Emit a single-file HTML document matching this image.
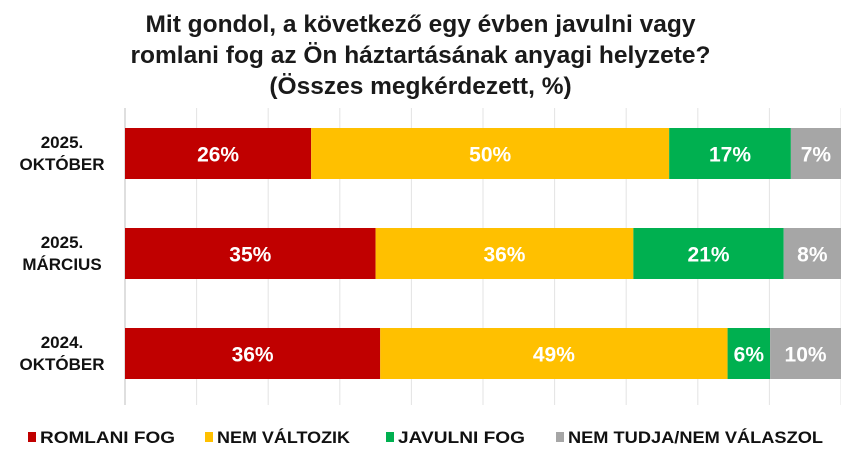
<!DOCTYPE html>
<html><head><meta charset="utf-8"><style>
body{margin:0;background:#fff;width:841px;height:460px;overflow:hidden;font-family:"Liberation Sans",sans-serif}
.t{position:absolute;left:0;width:841px;text-align:center;font-weight:bold;font-size:24.5px;color:#1a1a1a;line-height:31px;top:9px}
</style></head><body>
<div class="t">Mit gondol, a következő egy évben javulni vagy<br>romlani fog az Ön háztartásának anyagi helyzete?<br>(Összes megkérdezett, %)</div>
<svg id="c" width="841" height="460" style="position:absolute;left:0;top:0"></svg>
<script>
const categories=["2025.|OKTÓBER","2025.|MÁRCIUS","2024.|OKTÓBER"];
const romlani=[26,35,36];
const nemValtozik=[50,36,49];
const javulni=[17,21,6];
const nemTudja=[7,8,10];
const seriesNames=["ROMLANI FOG","NEM VÁLTOZIK","JAVULNI FOG","NEM TUDJA/NEM VÁLASZOL"];
const colors=["#c00000","#ffc000","#00b050","#a6a6a6"];
const ns="http://www.w3.org/2000/svg",svg=document.getElementById('c');
const x0=125,W=716,yTop=[128,228,328],bh=51;
function el(t,a){const e=document.createElementNS(ns,t);for(const k in a)e.setAttribute(k,a[k]);svg.appendChild(e);return e;}
for(let k=0;k<=10;k++){const g=el('line',{x1:x0+k*W/10,x2:x0+k*W/10,y1:108,y2:405,stroke:k?'#e3e3e3':'#bfbfbf','stroke-width':1});

}
const series=[romlani,nemValtozik,javulni,nemTudja];
categories.forEach((c,i)=>{
 const tot=series.reduce((s,a)=>s+a[i],0);let acc=0;
 series.forEach((s,j)=>{
  const x=x0+acc/tot*W,w=s[i]/tot*W;acc+=s[i];
  const r=el('rect',{x:x,y:yTop[i],width:w,height:bh,fill:colors[j]});
  
  
  const t=el('text',{x:x+w/2,y:yTop[i]+bh/2+8,'text-anchor':'middle',fill:'#fff','font-size':21,'font-weight':'bold'});
  t.textContent=s[i]+'%';
  
  
 });
 const p=c.split('|');
 p.forEach((l,k)=>{const t=el('text',{x:62,y:yTop[i]+20+k*22,'text-anchor':'middle',fill:'#111','font-size':17,'font-weight':'bold'});t.textContent=l;
 
 });
});
const lx=[28,205,386,556],lw=[135,133,127,255];
seriesNames.forEach((n,j)=>{
 const m=el('rect',{x:lx[j],y:432,width:8,height:10,fill:colors[j]});
 
 
 const t=el('text',{x:lx[j]+12,y:443,fill:'#111','font-size':17,'font-weight':'bold',textLength:lw[j],lengthAdjust:'spacingAndGlyphs'});
 t.textContent=n;
 
 
});
</script>
</body></html>
